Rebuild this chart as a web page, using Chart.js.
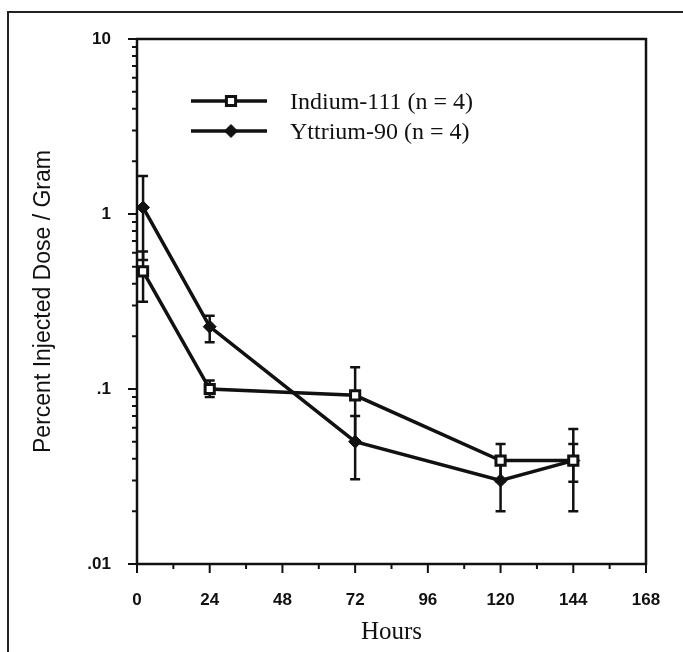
<!DOCTYPE html>
<html>
<head>
<meta charset="utf-8">
<script src="https://cdn.jsdelivr.net/npm/chart.js@4.4.0/dist/chart.umd.min.js"></script>
<style>
  html, body { margin: 0; padding: 0; background: #fff; }
  canvas { display: block; }
</style>
</head>
<body>
<canvas id="chart" width="683" height="652"></canvas>
<script>
// values (percent injected dose / gram)
const hours = [2, 24, 72, 120, 144];
const indium = [0.47, 0.10, 0.092, 0.039, 0.039];
const indiumLow = [0.315, 0.09, 0.051, 0.0295, 0.0295];
const indiumHigh = [0.61, 0.112, 0.133, 0.0485, 0.0485];
const yttrium = [1.09, 0.227, 0.05, 0.03, 0.039];
const yttriumLow = [0.546, 0.185, 0.0305, 0.02, 0.02];
const yttriumHigh = [1.65, 0.262, 0.07, 0.04, 0.059];

const xTicks = [0, 24, 48, 72, 96, 120, 144, 168];
const xTickLabels = ['0', '24', '48', '72', '96', '120', '144', '168'];
const xMinorTicks = [12, 36, 60, 84, 108, 132, 156];
const yTicks = [0.01, 0.1, 1, 10];
const yTickLabels = ['.01', '.1', '1', '10'];

const yMinorTicks = [];
[0.01, 0.1, 1].forEach(d => {
  for (let k = 2; k <= 9; k++) yMinorTicks.push(d * k);
});

const ink = '#111';

const decor = {
  id: 'decor',
  beforeDraw(chart) {
    const ctx = chart.ctx;
    ctx.save();
    ctx.fillStyle = '#fff';
    ctx.fillRect(0, 0, chart.width, chart.height);
    // outer frame of the figure
    ctx.strokeStyle = '#222';
    ctx.lineWidth = 2;
    ctx.strokeRect(8, 12, chart.width + 40, chart.height + 40);
    ctx.restore();
  },
  beforeDatasetsDraw(chart) {
    const ctx = chart.ctx;
    const xs = chart.scales.x, ys = chart.scales.y;
    ctx.save();
    ctx.strokeStyle = ink;
    ctx.lineWidth = 2.5;
    chart.data.datasets.forEach(ds => {
      hours.forEach((h, i) => {
        const px = xs.getPixelForValue(h);
        const lo = ys.getPixelForValue(ds.errLow[i]);
        const hi = ys.getPixelForValue(ds.errHigh[i]);
        ctx.beginPath();
        ctx.moveTo(px, lo); ctx.lineTo(px, hi);
        ctx.moveTo(px - 5, lo); ctx.lineTo(px + 5, lo);
        ctx.moveTo(px - 5, hi); ctx.lineTo(px + 5, hi);
        ctx.stroke();
      });
    });
    ctx.restore();
  },
  afterDraw(chart) {
    const ctx = chart.ctx;
    const a = chart.chartArea;
    const xs = chart.scales.x, ys = chart.scales.y;
    ctx.save();
    ctx.strokeStyle = ink;
    ctx.lineWidth = 2.5;
    ctx.strokeRect(a.left, a.top, a.right - a.left, a.bottom - a.top);

    ctx.beginPath();
    ctx.lineWidth = 2;
    yTicks.forEach(v => {
      const py = ys.getPixelForValue(v);
      ctx.moveTo(a.left - 9, py); ctx.lineTo(a.left, py);
    });
    yMinorTicks.forEach(v => {
      const py = ys.getPixelForValue(v);
      ctx.moveTo(a.left - 5, py); ctx.lineTo(a.left, py);
    });
    xTicks.forEach(v => {
      const px = xs.getPixelForValue(v);
      ctx.moveTo(px, a.bottom); ctx.lineTo(px, a.bottom + 9);
    });
    xMinorTicks.forEach(v => {
      const px = xs.getPixelForValue(v);
      ctx.moveTo(px, a.bottom); ctx.lineTo(px, a.bottom + 5);
    });
    ctx.stroke();

    // legend
    const rows = [101, 131];
    ctx.font = '24px "Liberation Serif", "Times New Roman", serif';
    ctx.textBaseline = 'middle';
    chart.data.datasets.forEach((ds, i) => {
      const y = rows[i];
      ctx.lineWidth = 3.5;
      ctx.beginPath();
      ctx.moveTo(191, y); ctx.lineTo(267, y);
      ctx.stroke();
      ctx.lineWidth = ds.pointBorderWidth;
      ctx.fillStyle = ds.pointBackgroundColor;
      ctx.beginPath();
      if (ds.pointStyle === 'rect') {
        const s = ds.pointRadius * Math.SQRT1_2;
        ctx.rect(231 - s, y - s, 2 * s, 2 * s);
      } else {
        const r = ds.pointRadius;
        ctx.moveTo(231, y - r); ctx.lineTo(231 + r, y);
        ctx.lineTo(231, y + r); ctx.lineTo(231 - r, y);
        ctx.closePath();
      }
      ctx.fill();
      ctx.stroke();
      ctx.fillStyle = ink;
      ctx.fillText(ds.label, 290, y + 2);
    });
    ctx.restore();
  }
};

const tickFont = { family: '"Liberation Sans", Arial, sans-serif', size: 17, weight: 'bold' };

new Chart(document.getElementById('chart'), {
  type: 'line',
  data: {
    datasets: [
      {
        label: 'Indium-111 (n = 4)',
        data: hours.map((h, i) => ({ x: h, y: indium[i] })),
        errLow: indiumLow,
        errHigh: indiumHigh,
        borderColor: ink,
        borderWidth: 3.5,
        tension: 0,
        pointStyle: 'rect',
        pointRadius: 6.5,
        pointBackgroundColor: '#fff',
        pointBorderColor: ink,
        pointBorderWidth: 3
      },
      {
        label: 'Yttrium-90 (n = 4)',
        data: hours.map((h, i) => ({ x: h, y: yttrium[i] })),
        errLow: yttriumLow,
        errHigh: yttriumHigh,
        borderColor: ink,
        borderWidth: 3.5,
        tension: 0,
        pointStyle: 'rectRot',
        pointRadius: 6.5,
        pointBackgroundColor: ink,
        pointBorderColor: ink,
        pointBorderWidth: 1
      }
    ]
  },
  options: {
    responsive: false,
    animation: false,
    devicePixelRatio: 1,
    layout: { padding: { top: 39, right: 37, bottom: 0, left: 0 } },
    plugins: {
      legend: { display: false },
      tooltip: { enabled: false }
    },
    scales: {
      x: {
        type: 'linear',
        min: 0,
        max: 168,
        afterBuildTicks: s => { s.ticks = xTicks.map(v => ({ value: v })); },
        afterFit: s => { s.height = 88; },
        grid: { display: false },
        border: { display: false },
        ticks: {
          color: ink,
          font: tickFont,
          padding: 18,
          maxRotation: 0,
          autoSkip: false,
          callback: (v, i) => xTickLabels[i]
        },
        title: {
          display: true,
          text: 'Hours',
          color: ink,
          font: { family: '"Liberation Serif", "Times New Roman", serif', size: 25 },
          padding: { top: 0, bottom: 5 }
        }
      },
      y: {
        type: 'logarithmic',
        min: 0.01,
        max: 10,
        afterBuildTicks: s => { s.ticks = yTicks.map(v => ({ value: v })); },
        afterFit: s => { s.width = 137; },
        grid: { display: false },
        border: { display: false },
        ticks: {
          color: ink,
          font: tickFont,
          padding: 18,
          autoSkip: false,
          callback: (v, i) => yTickLabels[i]
        },
        title: {
          display: true,
          text: 'Percent Injected Dose / Gram',
          color: ink,
          font: { family: '"Liberation Sans", Arial, sans-serif', size: 23 },
          padding: { top: 30, bottom: 0 }
        }
      }
    }
  },
  plugins: [decor]
});
</script>
</body>
</html>
